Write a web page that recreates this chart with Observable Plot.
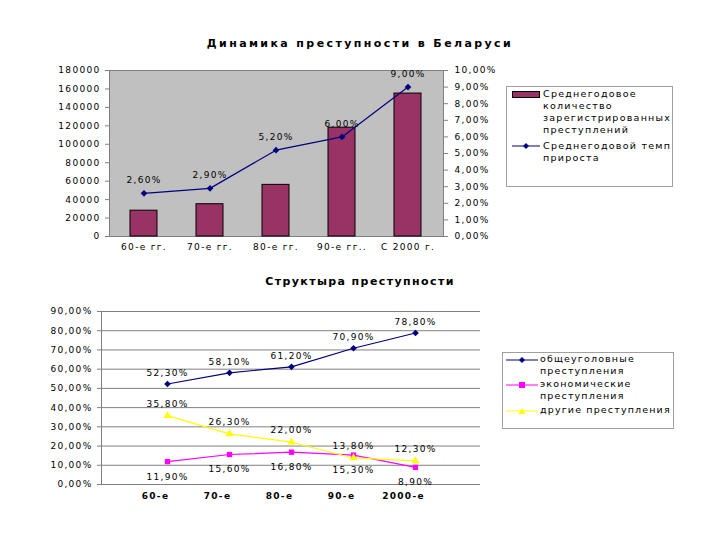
<!DOCTYPE html>
<html><head><meta charset="utf-8">
<script src="https://cdn.jsdelivr.net/npm/d3@7"></script>
<script src="https://cdn.jsdelivr.net/npm/@observablehq/plot@0.6"></script>
<style>
body{margin:0;background:#fff;}
#wrap{position:relative;width:720px;height:540px;background:#fff;overflow:hidden;font-family:"DejaVu Sans",sans-serif;}
.abs{position:absolute;}
.title{font-weight:bold;font-size:11px;width:720px;text-align:center;left:0;}
.legend{border:1px solid #a0a0a0;background:#fff;font-size:9.5px;letter-spacing:1.25px;line-height:12px;}
.item{position:absolute;white-space:nowrap;}
</style></head>
<body><div id="wrap">
<div class="abs title" style="top:37px;letter-spacing:2.4px">Динамика преступности в Беларуси</div>
<div id="chartTop" class="abs" style="left:0;top:0"></div>
<div class="abs legend" style="left:506px;top:86px;width:165px;height:99px">
  <div class="item" style="left:5px;top:4px;width:26px;height:5px;background:#993366;border:1px solid #000"></div>
  <div class="item" style="left:36px;top:1px">Среднегодовое<br>количество<br>зарегистрированных<br>преступлений</div>
  <svg class="item" style="left:5px;top:55px" width="28" height="8"><line x1="0" y1="4" x2="28" y2="4" stroke="#000080"/><path d="M14,1L17,4L14,7L11,4Z" fill="#000080"/></svg>
  <div class="item" style="left:36px;top:53px">Среднегодовой темп<br>прироста</div>
</div>
<div class="abs title" style="top:275px;letter-spacing:1.4px">Структыра преступности</div>
<div id="chartBot" class="abs" style="left:0;top:270px"></div>
<div class="abs legend" style="left:502px;top:352px;width:170px;height:75px;letter-spacing:1.15px">
  <svg class="item" style="left:3px;top:3px" width="32" height="8"><line x1="0" y1="4" x2="32" y2="4" stroke="#000080"/><path d="M16,1L19,4L16,7L13,4Z" fill="#000080"/></svg>
  <div class="item" style="left:37px;top:0px">общеуголовные<br>преступления</div>
  <svg class="item" style="left:3px;top:28px" width="32" height="8"><line x1="0" y1="4" x2="32" y2="4" stroke="#FF00FF"/><rect x="13" y="1" width="6" height="6" fill="#FF00FF"/></svg>
  <div class="item" style="left:37px;top:25px">экономические<br>преступления</div>
  <svg class="item" style="left:3px;top:54px" width="32" height="8"><line x1="0" y1="4" x2="32" y2="4" stroke="#FFFF00"/><path d="M16,1L19.5,7L12.5,7Z" fill="#FFFF00"/></svg>
  <div class="item" style="left:37px;top:51px">другие преступления</div>
</div>
</div>
<script>
// ---- Chart 1 data ----
const periods = ["60-е гг.", "70-е гг.", "80-е гг.", "90-е гг..", "С 2000 г."];
const crimesAvg = [28000, 35000, 56000, 118000, 155000];
const growthRate = [2.6, 2.9, 5.2, 6.0, 9.0];
const leftTicks = [0, 20000, 40000, 60000, 80000, 100000, 120000, 140000, 160000, 180000];
const rightTicks = [0, 1, 2, 3, 4, 5, 6, 7, 8, 9, 10];

// ---- Chart 2 data ----
const decades = ["60-е", "70-е", "80-е", "90-е", "2000-е"];
const generalCrimes = [52.3, 58.1, 61.2, 70.9, 78.8];
const economicCrimes = [11.9, 15.6, 16.8, 15.3, 8.9];
const otherCrimes = [35.8, 26.3, 22.0, 13.8, 12.3];
const pctTicks = [0, 10, 20, 30, 40, 50, 60, 70, 80, 90];

const pct = v => v.toFixed(2).replace(".", ",") + "%";
const K = 18000; // 1% on right axis = 18000 on left axis

const t1 = periods.map((p, i) => ({p, n: crimesAvg[i], g: growthRate[i]}));

const style = {fontFamily: "DejaVu Sans, sans-serif", fontSize: "9px", letterSpacing: "1.3px", color: "#000", background: "transparent"};

const chart1 = Plot.plot({
  width: 720, height: 262,
  marginLeft: 109, marginRight: 277, marginTop: 70, marginBottom: 26,
  style,
  x: {type: "band", domain: periods, paddingInner: 0.585, paddingOuter: 0.2925, label: null},
  y: {domain: [0, 180000], label: null},
  marks: [
    Plot.frame({fill: "#c0c0c0", stroke: "#808080"}),
    Plot.barY(t1, {x: "p", y: "n", fill: "#993366", stroke: "#000", strokeWidth: 1}),
    Plot.axisY({ticks: leftTicks, tickFormat: d => String(d), tickSize: 4, tickPadding: 5, stroke: "#808080", fill: "#000", label: null}),
    Plot.axisY(rightTicks.map(d => d * K), {anchor: "right", tickFormat: d => pct(d / K), tickSize: 4, tickPadding: 7, stroke: "#808080", fill: "#000", label: null}),
    Plot.axisX({tickSize: 0, tickPadding: 7, fill: "#000", label: null}),
    Plot.line(t1, {x: "p", y: d => d.g * K, stroke: "#000080", strokeWidth: 1.2}),
    Plot.dot(t1, {x: "p", y: d => d.g * K, symbol: "diamond2", r: 3, fill: "#000080", stroke: "none"}),
    Plot.text(t1, {x: "p", y: d => d.g * K, text: d => pct(d.g), dy: -13, fill: "#000"})
  ]
});
document.getElementById("chartTop").appendChild(chart1);

const series = [
  {name: "общеуголовные преступления", vals: generalCrimes, color: "#000080", symbol: "diamond2", dy: -11},
  {name: "экономические преступления", vals: economicCrimes, color: "#FF00FF", symbol: "square", dy: 15},
  {name: "другие преступления", vals: otherCrimes, color: "#FFFF00", symbol: "triangle", dy: -12}
];
const rows = series.flatMap(s => decades.map((d, i) => ({s: s.name, d, v: s.vals[i]})));

const chart2 = Plot.plot({
  width: 720, height: 240,
  marginLeft: 101, marginRight: 240, marginTop: 41, marginBottom: 26,
  style,
  x: {type: "point", domain: decades, padding: 1.01, label: null},
  y: {domain: [0, 90], label: null},
  marks: [
    Plot.gridY({ticks: pctTicks, stroke: "#808080", strokeOpacity: 1}),
    Plot.frame({anchor: "left", stroke: "#808080"}),
    Plot.axisY({ticks: pctTicks, tickFormat: pct, tickSize: 4, tickPadding: 5, stroke: "#808080", fill: "#000", label: null}),
    Plot.axisX({tickSize: 0, tickPadding: 8, dx: -12, fontWeight: "bold", fill: "#000", label: null}),
    ...series.map(s => Plot.line(rows.filter(r => r.s === s.name), {x: "d", y: "v", stroke: s.color, strokeWidth: 1.2})),
    ...series.map(s => Plot.dot(rows.filter(r => r.s === s.name), {x: "d", y: "v", symbol: s.symbol, r: 3, fill: s.color, stroke: "none"})),
    ...series.map(s => Plot.text(rows.filter(r => r.s === s.name), {x: "d", y: "v", text: d => pct(d.v), dy: s.dy, fill: "#000"}))
  ]
});
document.getElementById("chartBot").appendChild(chart2);
</script>
</body></html>
